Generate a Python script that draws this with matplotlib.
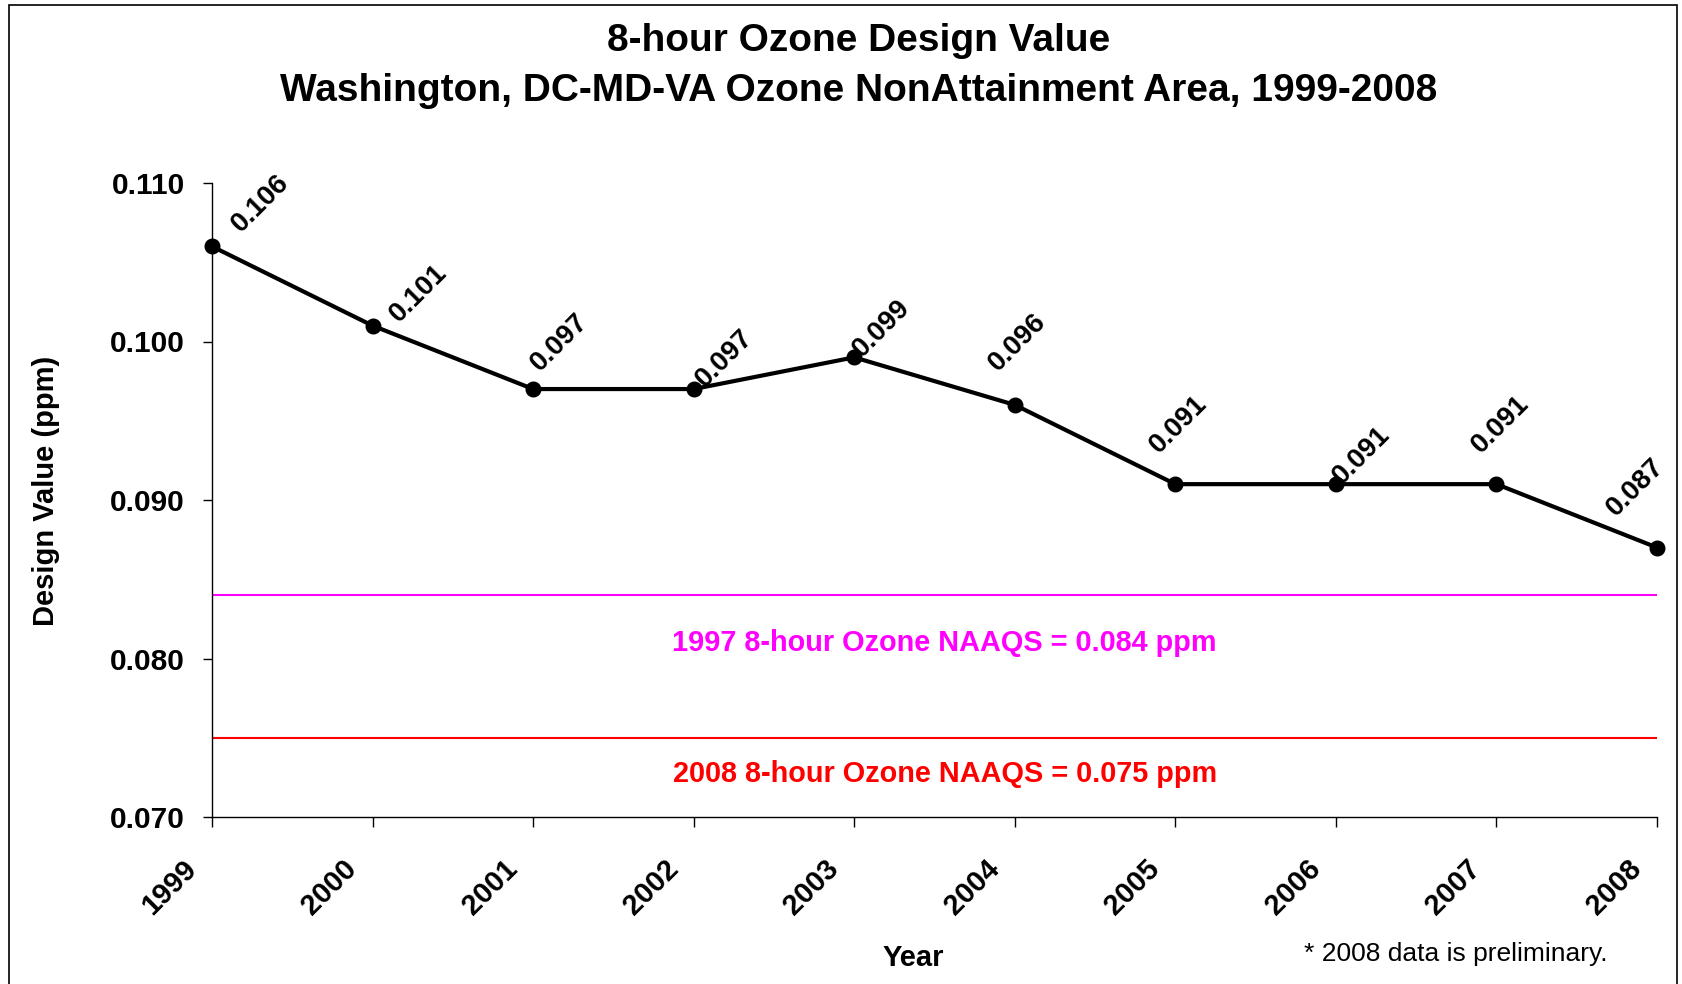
import matplotlib.pyplot as plt
from matplotlib.patches import Rectangle
from matplotlib.transforms import ScaledTranslation

plt.rcParams['font.family'] = ['Liberation Sans', 'DejaVu Sans']

years = [1999, 2000, 2001, 2002, 2003, 2004, 2005, 2006, 2007, 2008]
design_values = [0.106, 0.101, 0.097, 0.097, 0.099, 0.096, 0.091, 0.091, 0.091, 0.087]
value_labels = ["0.106", "0.101", "0.097", "0.097", "0.099", "0.096", "0.091", "0.091", "0.091", "0.087"]
naaqs_1997 = 0.084
naaqs_2008 = 0.075
y_ticks = [0.070, 0.080, 0.090, 0.100, 0.110]

# label offsets in pixels (dx, dy) relative to each point, as placed in the original
label_offsets = [(49, 43), (46, 32), (26, 47), (31, 31), (27, 29),
                 (3, 62), (3, 60), (26, 29), (4, 60), (-21, 60)]

W, H, DPI = 1683, 984, 100
fig = plt.figure(figsize=(W / DPI, H / DPI), dpi=DPI)

# outer chart frame
fig.patches.append(Rectangle((9 / W, -0.01), (1677 - 9) / W, 1 - 5 / H + 0.01,
                             transform=fig.transFigure, fill=False,
                             edgecolor='black', linewidth=1.2))

ax = fig.add_axes([212 / W, (H - 817) / H, 1445 / W, (817 - 183) / H])
ax.plot(years, design_values, color='black', linewidth=3.0,
        marker='o', markersize=10.5, clip_on=False, zorder=5)

ax.axhline(naaqs_1997, color='#ff00ff', linewidth=1.5)
ax.axhline(naaqs_2008, color='#ff0000', linewidth=1.5)

for x, y, lab, (dx, dy) in zip(years, design_values, value_labels, label_offsets):
    ax.annotate(lab, (x, y), xytext=(dx * 72 / DPI, dy * 72 / DPI),
                textcoords='offset points', rotation=45, ha='center', va='center',
                fontsize=20, fontweight='bold')

ax.text(0.507, 0.0810, "1997 8-hour Ozone NAAQS = 0.084 ppm", color='#ff00ff',
        transform=ax.get_yaxis_transform(), ha='center', va='center',
        fontsize=20.8, fontweight='bold')
ax.text(0.507, 0.0727, "2008 8-hour Ozone NAAQS = 0.075 ppm", color='#ff0000',
        transform=ax.get_yaxis_transform(), ha='center', va='center',
        fontsize=20.8, fontweight='bold')

ax.set_xlim(years[0], years[-1])
ax.set_ylim(y_ticks[0], y_ticks[-1])
ax.set_xticks(years)
ax.set_xticklabels([str(y) for y in years])
ax.set_yticks(y_ticks)
ax.set_yticklabels([f"{v:.3f}" for v in y_ticks])

for s in ('top', 'right'):
    ax.spines[s].set_visible(False)
for s in ('left', 'bottom'):
    ax.spines[s].set_linewidth(1.0)

ax.tick_params(axis='y', direction='out', length=6.5, width=1.0, pad=13,
               labelsize=21.5)
ax.tick_params(axis='x', direction='out', length=7, width=1.0, pad=20,
               labelsize=21)
shift = ScaledTranslation(-10 / DPI, 0, fig.dpi_scale_trans)
for lab in ax.get_xticklabels():
    lab.set_rotation(45)
    lab.set_ha('right')
    lab.set_va('top')
    lab.set_fontweight('bold')
    lab.set_transform(lab.get_transform() + shift)
for lab in ax.get_yticklabels():
    lab.set_fontweight('bold')

fig.text(859 / W, 1 - 41 / H, "8-hour Ozone Design Value", ha='center', va='center',
         fontsize=28, fontweight='bold')
fig.text(859 / W, 1 - 91 / H, "Washington, DC-MD-VA Ozone NonAttainment Area, 1999-2008",
         ha='center', va='center', fontsize=28, fontweight='bold')
fig.text(46 / W, 1 - 491 / H, "Design Value (ppm)", rotation=90, ha='center', va='center',
         fontsize=21, fontweight='bold')
fig.text(913 / W, 1 - 958 / H, "Year", ha='center', va='center',
         fontsize=21, fontweight='bold')
fig.text(1304 / W, 1 - 954 / H, "* 2008 data is preliminary.", ha='left', va='center',
         fontsize=19)

fig.savefig("out.png", dpi=DPI)
